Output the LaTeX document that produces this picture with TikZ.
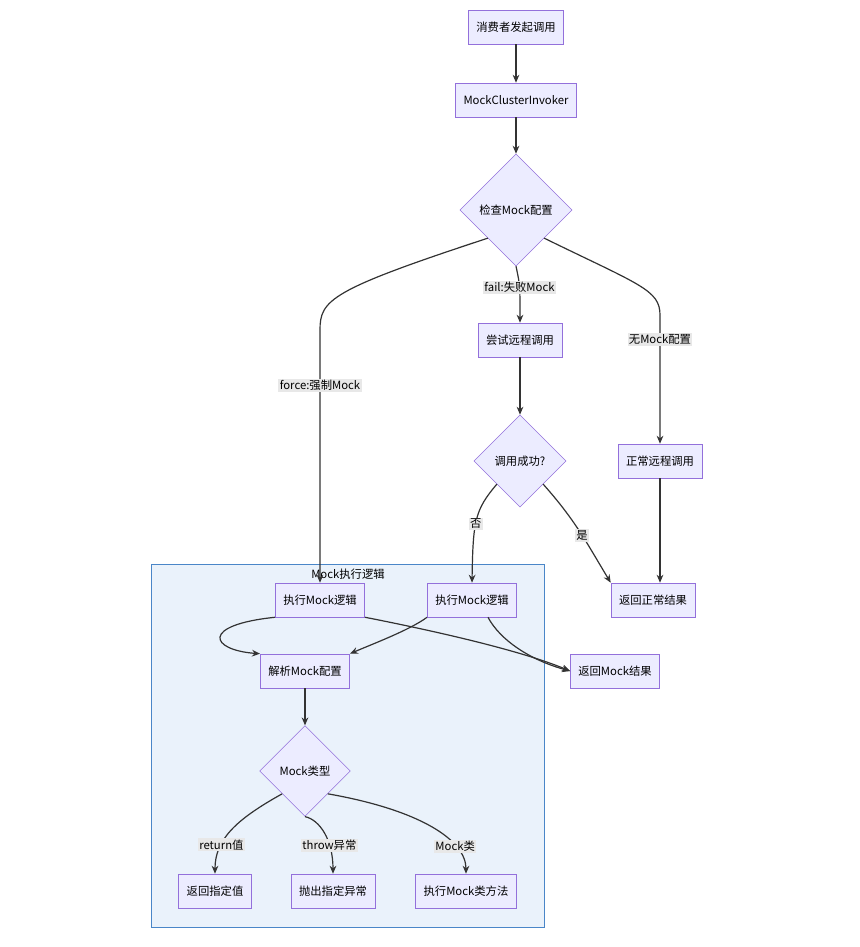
\documentclass[tikz,border=0pt]{standalone}
\usepackage{fontspec}
\setmainfont{Noto Sans CJK SC}
\usetikzlibrary{shapes.geometric}
\usetikzlibrary{arrows.meta}
\definecolor{boxfill}{HTML}{ECECFF}
\definecolor{boxline}{HTML}{9370DB}
\definecolor{groupfill}{HTML}{EAF2FB}
\definecolor{groupline}{HTML}{4A86C8}
\definecolor{lblfill}{HTML}{E8E8E8}
\definecolor{edgecol}{HTML}{333333}
\tikzset{
    proc/.style={draw=boxline, fill=boxfill, rectangle, minimum height=25.5pt, inner xsep=6pt, font=\fontsize{8.5}{10}\selectfont},
    check/.style={draw=boxline, fill=boxfill, diamond, aspect=1, inner sep=1pt, font=\fontsize{8.5}{10}\selectfont},
    flow/.style={draw=edgecol, line width=0.9pt, -{Stealth[length=6pt,width=5pt]}},
    lbl/.style={fill=lblfill, inner sep=1pt, font=\fontsize{8.5}{10}\selectfont}
}
\begin{document}
\begin{tikzpicture}[x=0.75pt,y=-0.75pt]
\useasboundingbox (0,0) rectangle (860,947);
% group box
\draw[groupline, fill=groupfill] (151,564) rectangle (544,927);
\node[font=\fontsize{8.5}{10}\selectfont] (grp) at (348,574) {Mock执行逻辑};
% nodes
\node[proc] (start) at (516,27) {消费者发起调用};
\node[proc] (invoker) at (516,100) {MockClusterInvoker};
\node[check, minimum width=84pt, minimum height=84pt] (cfg) at (516,210) {检查Mock配置};
\node[proc] (try) at (520,340) {尝试远程调用};
\node[check, minimum width=69pt, minimum height=69pt] (ok) at (520,461) {调用成功?};
\node[proc] (normal) at (660,461) {正常远程调用};
\node[proc] (retok) at (653,600) {返回正常结果};
\node[proc] (mockA) at (320,600) {执行Mock逻辑};
\node[proc] (mockB) at (472,600) {执行Mock逻辑};
\node[proc] (retmock) at (615,671) {返回Mock结果};
\node[proc] (parse) at (305,671) {解析Mock配置};
\node[check, minimum width=68pt, minimum height=68pt] (kind) at (305,771) {Mock类型};
\node[proc] (val) at (215,891) {返回指定值};
\node[proc] (exc) at (333,891) {抛出指定异常};
\node[proc] (cls) at (466,891) {执行Mock类方法};
% edges
\draw[flow] (start) -- (invoker);
\draw[flow] (invoker) -- (cfg);
\draw[flow] (cfg.south west) .. controls (330,290) and (320,300) .. (320,330)
  -- node[lbl, pos=0.22] {force:强制Mock} (mockA.north);
\draw[flow] (cfg.south) .. controls (520,285) .. node[lbl] {fail:失败Mock} (try.north);
\draw[flow] (cfg.south east) .. controls (640,285) and (660,290) .. (660,315)
  -- node[lbl, pos=0.19] {无Mock配置} (normal.north);
\draw[flow] (try) -- (ok);
\draw[flow] (ok.south west) .. controls (475,510) and (473,520) .. node[lbl, pos=0.55] {否} (mockB.north);
\draw[flow] (ok.south east) .. controls (575,520) and (585,540) .. node[lbl, pos=0.55] {是} (retok.north west);
\draw[flow] (normal.south) -- (normal.south |- retok.north);
\draw[flow] (mockA.south west) .. controls (200,625) and (210,650) .. (parse.north west);
\draw[flow] (mockA.south east) .. controls (430,630) and (520,650) .. (retmock.west);
\draw[flow] (mockB.south west) .. controls (410,630) and (370,645) .. (parse.north east);
\draw[flow] ([xshift=12pt]mockB.south) .. controls (500,640) and (530,660) .. (retmock.west);
\draw[flow] (parse) -- (kind);
\draw[flow] (kind.south west) .. controls (235,820) and (215,840) .. node[lbl, pos=0.68] {return值} (val.north);
\draw[flow] (kind.south) .. controls (320,820) and (333,840) .. node[lbl, pos=0.68] {throw异常} (exc.north);
\draw[flow] (kind.south east) .. controls (420,810) and (466,840) .. node[lbl, pos=0.72] {Mock类} (cls.north);
\end{tikzpicture}
\end{document}
